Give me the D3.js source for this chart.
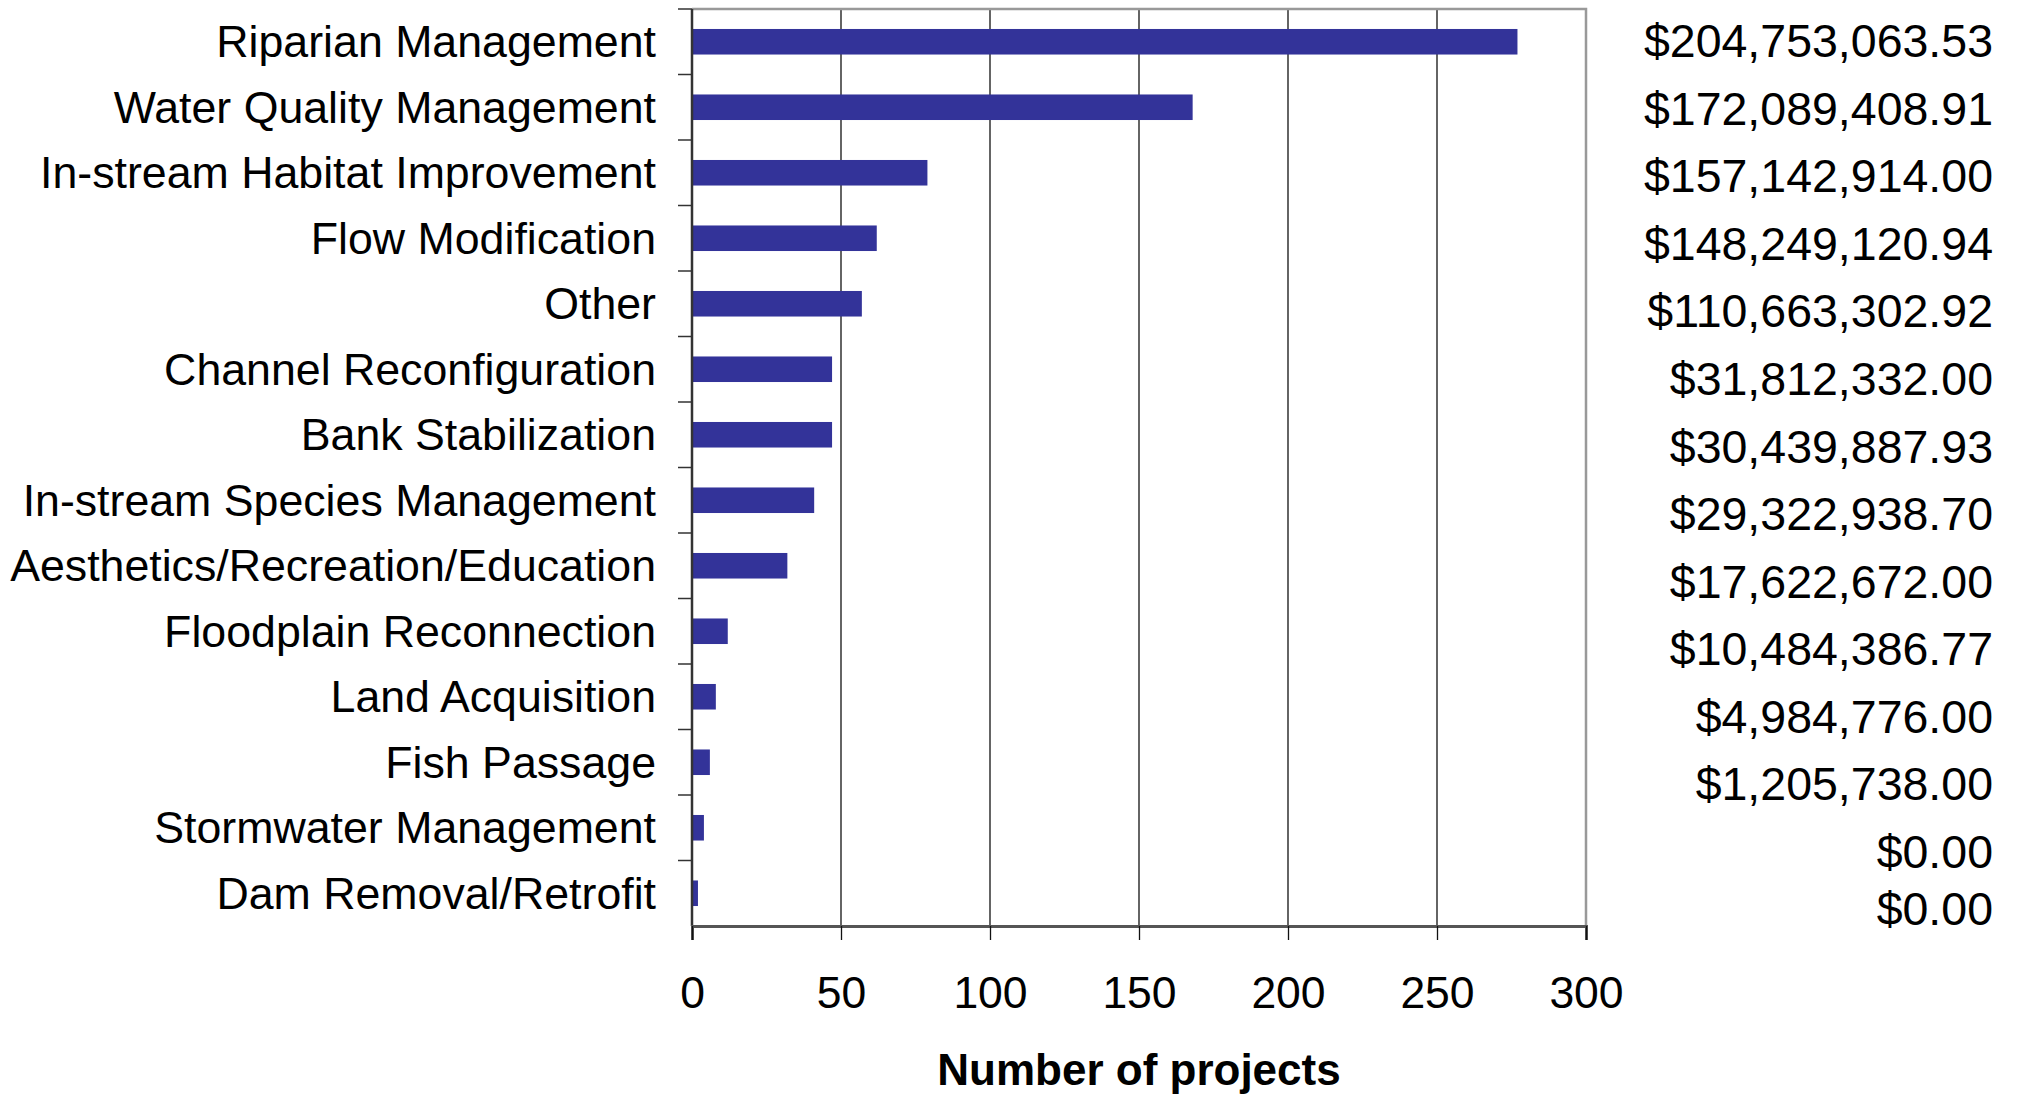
<!DOCTYPE html>
<html lang="en">
<head>
<meta charset="utf-8" />
<title>Restoration projects by category</title>
<style>
html,body{margin:0;height:100%;background:#fff}
#chart{width:2017px;height:1095px}
svg text{font-family:"Liberation Sans",Arial,sans-serif;fill:#000}
</style>
<script src="https://cdn.jsdelivr.net/npm/d3@7/dist/d3.min.js"></script>
</head>
<body>
<div id="chart"></div>

<script>
/* ----------------------------- data ----------------------------------- */
const categories = [
  "Riparian Management", "Water Quality Management", "In-stream Habitat Improvement",
  "Flow Modification", "Other", "Channel Reconfiguration", "Bank Stabilization",
  "In-stream Species Management", "Aesthetics/Recreation/Education",
  "Floodplain Reconnection", "Land Acquisition", "Fish Passage",
  "Stormwater Management", "Dam Removal/Retrofit"
];
const projects = [277, 168, 79, 62, 57, 47, 47, 41, 32, 12, 8, 6, 4, 2];
const costs = [
  "$204,753,063.53", "$172,089,408.91", "$157,142,914.00", "$148,249,120.94",
  "$110,663,302.92", "$31,812,332.00", "$30,439,887.93", "$29,322,938.70",
  "$17,622,672.00", "$10,484,386.77", "$4,984,776.00", "$1,205,738.00",
  "$0.00", "$0.00"
];
const xTicks = [0, 50, 100, 150, 200, 250, 300];
const xTitle = "Number of projects";

/* ---------------------------- layout ---------------------------------- */
const width = 2017, height = 1095;
const m = {left: 692, right: 1586, top: 9, bottom: 926};

const svg = d3.select("#chart").append("svg")
              .attr("width", width).attr("height", height);

const x = d3.scaleLinear().domain([0, 300]).range([m.left, m.right]);
const y = d3.scaleBand().domain(categories).range([m.top, m.bottom])
            .paddingInner(0.61).paddingOuter(0.305);
const yBand = d3.scaleBand().domain(categories).range([m.top, m.bottom]);
const costY = d3.scalePoint().domain(categories).range([41, 919]);

/* grid lines */
svg.append("g")
   .selectAll("line").data(xTicks.slice(1, -1)).join("line")
   .attr("x1", d => x(d)).attr("x2", d => x(d))
   .attr("y1", m.top).attr("y2", m.bottom)
   .attr("stroke", "#111").attr("stroke-width", 1.3);

/* plot frame: top and right */
svg.append("path")
   .attr("d", `M${m.left},${m.top}H${m.right}V${m.bottom}`)
   .attr("fill", "none").attr("stroke", "#999").attr("stroke-width", 2.5);

/* bars */
svg.append("g")
   .selectAll("rect").data(categories).join("rect")
   .attr("x", x(0))
   .attr("y", d => y(d))
   .attr("width", (d, i) => x(projects[i]) - x(0))
   .attr("height", y.bandwidth())
   .attr("fill", "#333399");

/* y axis: ticks between categories */
const yAx = svg.append("g").attr("transform", `translate(${m.left},0)`);
yAx.append("line").attr("x1", 0).attr("x2", 0).attr("y1", m.top).attr("y2", m.bottom)
   .attr("stroke", "#333").attr("stroke-width", 2.5);
yAx.selectAll("line.tk").data(categories).join("line").attr("class", "tk")
   .attr("x1", -14).attr("x2", 0)
   .attr("y1", d => yBand(d)).attr("y2", d => yBand(d))
   .attr("stroke", "#333").attr("stroke-width", 1.5);
yAx.selectAll("text").data(categories).join("text")
   .attr("x", -36).attr("y", d => yBand(d) + yBand.bandwidth() / 2)
   .attr("dy", "0.35em").attr("text-anchor", "end")
   .attr("font-size", 44.7).text(d => d);

/* x axis */
const xAx = svg.append("g").attr("transform", `translate(0,${m.bottom})`)
   .call(d3.axisBottom(x).tickValues(xTicks).tickSize(14).tickPadding(36));
xAx.select(".domain").attr("stroke", "#555").attr("stroke-width", 3);
xAx.selectAll(".tick line").attr("stroke", "#111").attr("stroke-width", 1.3);
xAx.selectAll(".tick text").attr("font-size", 44.5).attr("font-family", null);

svg.append("text")
   .attr("x", (m.left + m.right) / 2).attr("y", 1085)
   .attr("text-anchor", "middle").attr("font-size", 44).attr("font-weight", "bold")
   .text(xTitle);

/* cost column, kept above the x axis line */
svg.append("g")
   .selectAll("text").data(categories).join("text")
   .attr("x", 1993)
   .attr("y", d => Math.min(costY(d), m.bottom - 17))
   .attr("dy", "0.35em").attr("text-anchor", "end")
   .attr("font-size", 46.5)
   .text((d, i) => costs[i]);
</script>
</body>
</html>
